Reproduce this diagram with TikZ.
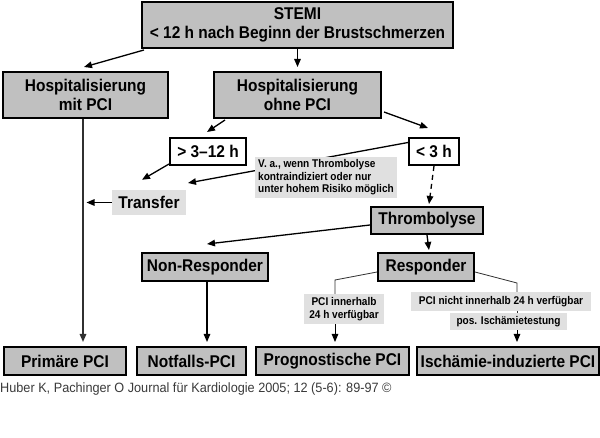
\documentclass[tikz,border=0pt]{standalone}
\usepackage{fontspec}
\setmainfont{Liberation Sans}
\newfontfamily\boxfont[FakeStretch=0.91]{Liberation Sans}
\newfontfamily\narrowfont[FakeStretch=0.9]{Liberation Sans}
\newfontfamily\creditfont[FakeStretch=0.94]{Liberation Sans}
\usetikzlibrary{arrows.meta,calc}
\definecolor{boxgray}{HTML}{C0C0C0}
\definecolor{notegray}{HTML}{E0E0E0}
\definecolor{credit}{HTML}{3A3A3A}
\definecolor{thinline}{HTML}{303030}
\tikzset{
  mainbox/.style={draw=black, line width=2pt, fill=boxgray, inner sep=0pt, align=center,
    font=\boxfont\fontsize{17}{18.5}\selectfont\bfseries},
  whitebox/.style={draw=black, line width=2pt, fill=white, inner sep=0pt, align=center,
    font=\boxfont\fontsize{17}{18.5}\selectfont\bfseries},
  notebox/.style={fill=notegray, inner sep=0pt, align=left,
    font=\narrowfont\fontsize{11.2}{12.5}\selectfont\bfseries},
  condbox/.style={fill=notegray, inner sep=0pt, align=center,
    font=\narrowfont\fontsize{11.2}{12.5}\selectfont\bfseries},
  arr/.style={line width=1.3pt, -{Triangle[length=8pt,width=6.5pt]}},
  thin/.style={line width=0.8pt, draw=thinline},
  thinarr/.style={line width=1pt, -{Triangle[length=8pt,width=6.5pt]}},
}
\begin{document}
\begin{tikzpicture}[x=1pt,y=-1pt]
\useasboundingbox (0,0) rectangle (600,438);
% boxes
\node[mainbox, minimum width=311pt, minimum height=46pt] (stemi) at (297.5,25) {STEMI\\{}< 12 h nach Beginn der Brustschmerzen};
\node[mainbox, minimum width=165pt, minimum height=46pt] (hmit) at (85.5,95) {Hospitalisierung\\mit PCI};
\node[mainbox, minimum width=167pt, minimum height=46pt] (hohne) at (297.5,95) {Hospitalisierung\\ohne PCI};
\node[whitebox, minimum width=76pt, minimum height=27pt] (t312) at (208,151.5) {> 3–12 h};
\node[whitebox, minimum width=50pt, minimum height=27pt] (t3) at (434,151.5) {< 3 h};
\coordinate (tthr) at (188,183);
\draw[arr] ($(t3.west)+(0,-9)$) -- (tthr);
\node[notebox, minimum width=142pt, minimum height=41pt] (va) at (326,177.5) {V. a., wenn Thrombolyse\\kontraindiziert oder nur\\unter hohem Risiko möglich};
\node[condbox, minimum width=74pt, minimum height=25pt, font=\boxfont\fontsize{17}{18.5}\selectfont\bfseries] (transfer) at (149,202.5) {Transfer};
\node[mainbox, minimum width=112pt, minimum height=27pt] (thromb) at (427,220.5) {Thrombolyse};
\node[mainbox, minimum width=126pt, minimum height=28pt] (nonresp) at (205,267) {Non-Responder};
\node[mainbox, minimum width=96pt, minimum height=28pt] (resp) at (426,267) {Responder};
\node[condbox, minimum width=80pt, minimum height=30pt] (pciin) at (344,309) {PCI innerhalb\\24 h verfügbar};
\node[condbox, minimum width=180pt, minimum height=19pt] (pcinicht) at (501,301.5) {PCI nicht innerhalb 24 h verfügbar};
\node[condbox, minimum width=117pt, minimum height=17pt] (posisch) at (508.5,321.5) {pos. Ischämietestung};
\node[mainbox, minimum width=122pt, minimum height=28pt] (prim) at (65,361) {Primäre PCI};
\node[mainbox, minimum width=109pt, minimum height=28pt] (notf) at (191.5,361) {Notfalls-PCI};
\node[mainbox, minimum width=153pt, minimum height=28pt] (prog) at (332.5,361) {Prognostische PCI};
\node[mainbox, minimum width=182pt, minimum height=28pt] (isch) at (508,361) {Ischämie-induzierte PCI};
\node[anchor=west, inner sep=0pt, text=credit, font=\creditfont\fontsize{13.5}{15}\selectfont] (cred) at (0,389) {Huber K, Pachinger O Journal für Kardiologie 2005; 12 (5-6): 89-97 ©};
% coordinates
\coordinate (hmitl) at (83,0);
\coordinate (rl) at (335,280);
\coordinate (rr) at (517,283);
% connectors
\draw[arr] ($(stemi.south west)+(3,1)$) -- ($(hmit.north)+(-1.5,-4)$);
\draw[arr] (stemi.south) -- ($(hohne.north)+(0,-4)$);
\draw[arr] ($(hohne.south west)+(12,1)$) -- ($(t312.north)+(-1,-5)$);
\draw[arr] ($(hohne.east)+(2,17)$) -- ($(t3.north)+(-6,-9)$);
\draw[arr] ($(t312.south west)+(0,-2)$) -- ($(transfer.north)+(-7,-10)$);
\draw[arr, dashed, dash pattern=on 5pt off 4pt] (t3.south) -- ($(thromb.north)+(2,-2)$);
\draw[arr, line width=1.6pt, draw=thinline] (hmitl |- hmit.south) -- ($(hmitl |- prim.north)+(0,-4)$);
\draw[arr] (transfer.west) -- ($(hmitl |- transfer.west)+(3.5,0)$);
\draw[arr] ($(thromb.west)+(0,4.5)$) -- ($(nonresp.north)+(2,-8)$);
\draw[arr] (thromb.south) -- ($(resp.north)+(3,-2)$);
\draw[arr] ($(nonresp.south)+(2,0)$) -- ($(nonresp.south |- notf.north)+(2,-4)$);
\draw[thin] ($(resp.west)+(0,5)$) -- (rl) -- (rl |- pciin.north);
\draw[thinarr] (rl |- pciin.south) -- ($(rl |- prog.north)+(0,-4)$);
\draw[thin] ($(resp.east)+(0,5)$) -- (rr) -- (rr |- pcinicht.north);
\draw[thin, dashed, dash pattern=on 2pt off 2pt] (rr |- pcinicht.south) -- (rr |- posisch.north);
\draw[thinarr] (rr |- posisch.south) -- ($(rr |- isch.north)+(0,-4)$);
\end{tikzpicture}
\end{document}
